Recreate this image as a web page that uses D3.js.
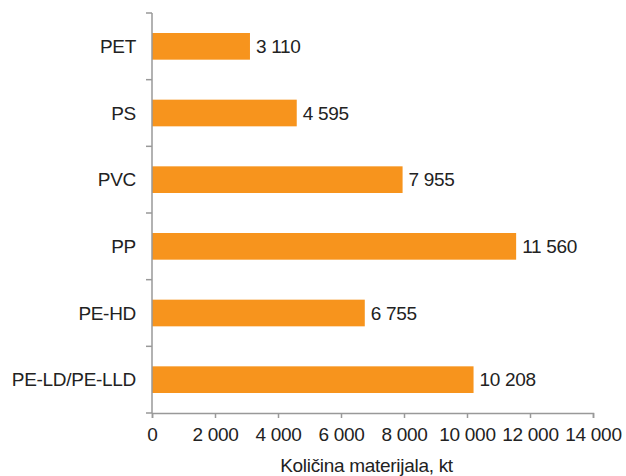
<!DOCTYPE html>
<html>
<head>
<meta charset="utf-8">
<script src="https://cdn.jsdelivr.net/npm/d3@7"></script>
<style>
  html, body { margin: 0; padding: 0; background: #fff; }
  svg { display: block; font-family: "Liberation Sans", Arial, sans-serif; }
  svg text { letter-spacing: -0.3px; }
</style>
</head>
<body>
<svg id="chart" width="626" height="476"></svg>
<script>
// Plastic material quantities (kt)
const categories = ["PET", "PS", "PVC", "PP", "PE-HD", "PE-LD/PE-LLD"];
const values = [3110, 4595, 7955, 11560, 6755, 10208];
const xTicks = [0, 2000, 4000, 6000, 8000, 10000, 12000, 14000];
const xTitle = "Količina materijala, kt";

const svg = d3.select("#chart");
const margin = { left: 152, top: 13, right: 33, bottom: 63 };
const W = 626, H = 476;
const innerW = W - margin.left - margin.right;
const innerH = H - margin.top - margin.bottom;
const FS = 19;

const fmt = v => d3.format(",")(v).replace(/,/g, " ");

const x = d3.scaleLinear().domain([0, 14000]).range([0, innerW]);
const y = d3.scaleBand().domain(categories).range([0, innerH]).paddingInner(0.6).paddingOuter(0.3);

const g = svg.append("g").attr("transform", `translate(${margin.left},${margin.top})`);

// bars
g.selectAll("rect.bar")
  .data(categories)
  .join("rect")
  .attr("class", "bar")
  .attr("x", 0)
  .attr("y", d => y(d))
  .attr("width", (d, i) => x(values[i]))
  .attr("height", y.bandwidth())
  .attr("fill", "#F7941D");

// value labels
g.selectAll("text.val")
  .data(categories)
  .join("text")
  .attr("class", "val")
  .attr("x", (d, i) => x(values[i]) + 6)
  .attr("y", d => y(d) + y.bandwidth() / 2)
  .attr("dy", "0.35em")
  .attr("font-size", FS)
  .attr("fill", "#222")
  .text((d, i) => fmt(values[i]));

// x axis
const xAxis = g.append("g")
  .attr("transform", `translate(0,${innerH})`)
  .call(d3.axisBottom(x).tickValues(xTicks).tickSize(5).tickPadding(10).tickFormat(fmt));
xAxis.select(".domain").attr("stroke", "#999").attr("stroke-width", 1.5);
xAxis.selectAll(".tick line").attr("stroke", "#999").attr("stroke-width", 1.5);
xAxis.selectAll(".tick text").attr("font-size", FS).attr("fill", "#222")
  .attr("font-family", "'Liberation Sans', Arial, sans-serif");

// y axis: ticks sit between the categories
const yAxisG = g.append("g");
yAxisG.append("line")
  .attr("x1", 0).attr("x2", 0).attr("y1", 0).attr("y2", innerH)
  .attr("stroke", "#999").attr("stroke-width", 1.5);
const step = y.step();
const boundaries = d3.range(categories.length + 1).map(i => i === 0 ? 0 : (i === categories.length ? innerH : y(categories[i]) - (step - y.bandwidth()) / 2));
yAxisG.selectAll("line.tk")
  .data(boundaries)
  .join("line")
  .attr("class", "tk")
  .attr("x1", -6).attr("x2", 0)
  .attr("y1", d => d).attr("y2", d => d)
  .attr("stroke", "#999").attr("stroke-width", 1.5);
yAxisG.selectAll("text.cat")
  .data(categories)
  .join("text")
  .attr("class", "cat")
  .attr("x", -16)
  .attr("y", d => y(d) + y.bandwidth() / 2)
  .attr("dy", "0.35em")
  .attr("text-anchor", "end")
  .attr("font-size", FS)
  .attr("fill", "#222")
  .text(d => d);

// axis title
svg.append("text")
  .attr("x", margin.left + innerW / 2 - 6)
  .attr("y", 472)
  .attr("text-anchor", "middle")
  .attr("font-size", FS)
  .attr("fill", "#222")
  .text(xTitle);
</script>
</body>
</html>
